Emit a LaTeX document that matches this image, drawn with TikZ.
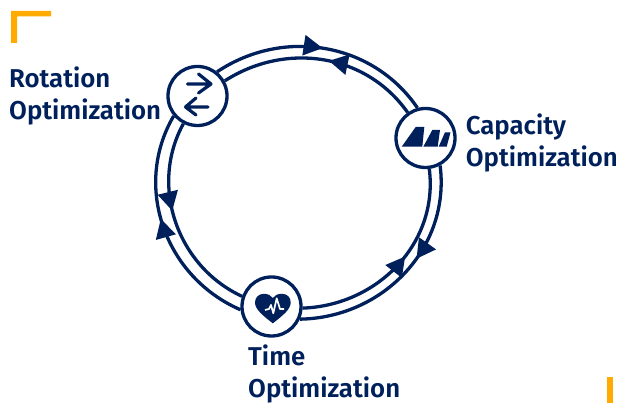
\documentclass[tikz,border=0pt]{standalone}
\usepackage{fontspec}
\setmainfont{Fira Sans}[UprightFont=* SemiBold]
\usepackage{tikz}
\usetikzlibrary{positioning,arrows.meta,decorations.markings}
\definecolor{navy}{HTML}{00205B}
\definecolor{corner}{HTML}{FFAB00}

\begin{document}
\begin{tikzpicture}
  [x=1pt,y=1pt,
   hub/.style={circle,draw=navy,fill=white,line width=3.3pt,minimum size=59pt,inner sep=0pt},
   label/.style={text=navy,align=left,inner sep=0pt,font=\fontsize{25.8}{32}\selectfont},
   ring/.style={draw=navy,line width=3.3pt},
   tipat/.style={postaction={decorate,decoration={markings,mark=at position #1 with {\arrow[navy]{Triangle[length=19pt,width=20pt]}}}}},
   glyph/.style={draw=navy,line width=3.2pt,line cap=round,line join=round}]

  \useasboundingbox (0,0) rectangle (621,403);

  \fill[corner] (11,392) -- (51,392) -- (51,386.5) -- (17,386.5) -- (17,360) -- (11,360) -- cycle;
  \fill[corner] (607,26) rectangle (613,0);

  \node[hub] (rotnode) at (197.5,307) {};
  \node[hub] (capnode) at (425.5,265) {};
  \node[hub] (timenode) at (271.5,96.5) {};

  \node[label,left=5pt of rotnode] (rotlabel) {Rotation\\Optimization};
  \node[label,right=9pt of capnode,yshift=-5pt] (caplabel) {Capacity\\Optimization};
  \node[label,anchor=west] (timelabel) at (248,29) {Time\\Optimization};

  % outer ring, clockwise
  \draw[ring,tipat=0.49] (rotnode.51) to[out=33.7,in=124.3] (capnode.105);
  \draw[ring,tipat=0.42] (capnode.-62) to[out=-82.8,in=1,looseness=1.02] (timenode.-24);
  \draw[ring,tipat=0.54] (timenode.186) to[out=156.7,in=239.7,looseness=1.02] (rotnode.220);

  % inner ring, the other way
  \draw[ring,tipat=0.47] (capnode.125) to[out=125.2,in=32.8] (rotnode.29);
  \draw[ring,tipat=0.44] (rotnode.243) to[out=241.2,in=155.2] (timenode.161);
  \draw[ring,tipat=0.56] (timenode.-3) to[out=2,in=277.2,looseness=1.02] (capnode.-83);

  % rotation icon
  \draw[glyph] (187.5,319) -- (211,319) (198.5,329) -- (211,319) -- (198.5,310);
  \draw[glyph] (208,296) -- (185.5,296) (196,305) -- (185.5,296) -- (196,288);

  % capacity icon
  \fill[navy] (401.7,256.3) -- (415.7,276) -- (424.3,276) -- (422.3,256.3) -- cycle;
  \fill[navy] (423.3,256.3) -- (432.3,273) -- (440,273) -- (437.7,256.3) -- cycle;
  \fill[navy] (438.7,256.3) -- (445,270.7) -- (450.5,270.7) -- (446.7,256.3) -- cycle;

  % time icon
  \fill[navy] (272.8,79.7) .. controls (262,88) and (255,94) .. (255,100.5)
    .. controls (255,106) and (259,109.2) .. (264,109.2)
    .. controls (268,109.2) and (271,107.5) .. (272.8,105)
    .. controls (274.6,107.5) and (277.6,109.2) .. (281.6,109.2)
    .. controls (287,109.2) and (290.7,106) .. (290.7,100.5)
    .. controls (290.7,94) and (283.6,88) .. (272.8,79.7) -- cycle;
  \draw[white,line width=1.7pt,line join=round] (265,93) -- (269,94) -- (271,98) -- (273.3,89.7) -- (276.7,104.7) -- (280,94) -- (284,94);
\end{tikzpicture}
\end{document}
